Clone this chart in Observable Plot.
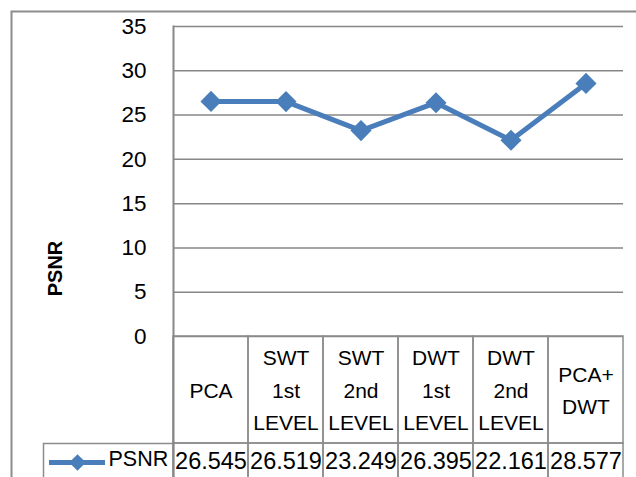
<!DOCTYPE html>
<html><head><meta charset="utf-8">
<script src="https://cdn.jsdelivr.net/npm/d3@7"></script>
<script src="https://cdn.jsdelivr.net/npm/@observablehq/plot@0.6"></script>
<style>body{margin:0;background:#fff;overflow:hidden;}</style>
</head><body><div id="chart"></div>
<script>
const categories = ["PCA", "SWT 1st LEVEL", "SWT 2nd LEVEL", "DWT 1st LEVEL", "DWT 2nd LEVEL", "PCA+DWT"];
const categoryLabels = ["PCA", "SWT\n1st\nLEVEL", "SWT\n2nd\nLEVEL", "DWT\n1st\nLEVEL", "DWT\n2nd\nLEVEL", "PCA+\nDWT"];
const psnrValues = [26.545, 26.519, 23.249, 26.395, 22.161, 28.577];
const yTicks = [0, 5, 10, 15, 20, 25, 30, 35];
const seriesName = "PSNR";
const axisTitle = "PSNR";

const rows = categories.map((c, i) => ({category: c, label: categoryLabels[i], psnr: psnrValues[i]}));
const blue = "#4a7ebb", grid = "#878787", border = "#8c8c8c";
const font = "'Liberation Sans',Arial,sans-serif";

const chart = Plot.plot({
  width: 636, height: 477,
  marginTop: 26, marginLeft: 173, marginRight: 13, marginBottom: 141,
  style: {fontFamily: font, fontSize: "22px", color: "#000", background: "#fff"},
  x: {type: "band", domain: categories, padding: 0, axis: null},
  y: {domain: [0, 35], axis: null},
  marks: [
    Plot.frame({stroke: border, strokeWidth: 2, insetLeft: -162, insetTop: -15, insetRight: -30, insetBottom: -160}),
    Plot.ruleY(yTicks, {stroke: grid, strokeWidth: 1.5}),
    Plot.barY(rows, {x: "category", y1: 0, y2: 0, insetBottom: -107, fill: "none", stroke: border, strokeWidth: 1.5}),
    Plot.barY(rows, {x: "category", y1: 0, y2: 0, insetTop: 107, insetBottom: -160, fill: "none", stroke: border, strokeWidth: 1.5}),
    Plot.frame({fill: "none", stroke: border, strokeWidth: 1.5, insetLeft: -130, insetRight: 450, insetTop: 417, insetBottom: -160}),
    Plot.frame({anchor: "left", stroke: grid, strokeWidth: 2, insetBottom: -145}),
    Plot.axisY(yTicks, {tickSize: 0, tickPadding: 27, label: null, fontSize: 22.5}),
    Plot.text([axisTitle], {text: d => d, frameAnchor: "left", rotate: -90, dx: -118, dy: 87,
      textAnchor: "middle", fontWeight: "bold", fontSize: 20}),
    Plot.line(rows, {x: "category", y: "psnr", stroke: blue, strokeWidth: 5}),
    Plot.dot(rows, {x: "category", y: "psnr", symbol: "diamond2", r: 9.5, fill: blue}),
    Plot.text(rows, {x: "category", text: "label", frameAnchor: "bottom", dy: 51, lineAnchor: "middle", lineHeight: 1.55, fontSize: 21}),
    Plot.text(rows, {x: "category", text: d => d3.format(".3f")(d.psnr), frameAnchor: "bottom", dy: 132, fontSize: 23.5}),
    Plot.ruleY([0], {stroke: blue, strokeWidth: 5, insetLeft: -124, insetRight: 518, dy: 126}),
    Plot.dot([seriesName], {frameAnchor: "bottom-left", dx: -96, dy: 126, symbol: "diamond2", r: 7.5, fill: blue}),
    Plot.text([seriesName], {text: d => d, frameAnchor: "bottom-left", dx: -65, dy: 129, textAnchor: "start", fontSize: 21.5})
  ]
});
document.getElementById("chart").append(chart);
</script>
</body></html>
